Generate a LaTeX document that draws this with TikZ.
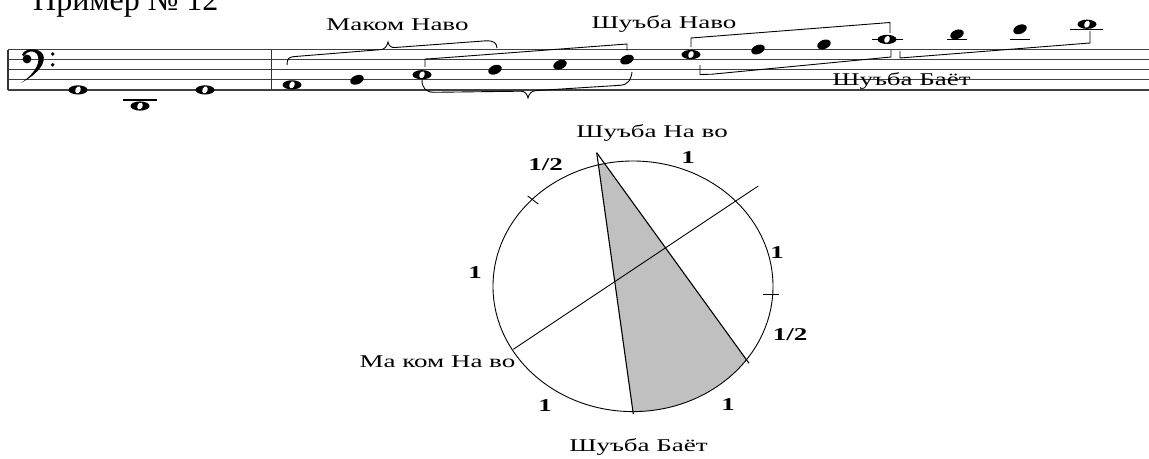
\documentclass[tikz,border=0pt]{standalone}
\usepackage{fontspec}
\setmainfont{Liberation Serif}
\newfontfamily\widefont[FakeStretch=1.5]{Liberation Serif}
\usetikzlibrary{calc}
\definecolor{wedgegray}{RGB}{192,192,192}
\begin{document}
\begin{tikzpicture}[x=1pt,y=-1pt,
  staffline/.style={line width=1.2pt,black!75},
  barline/.style={line width=1.2pt,black!80},
  ledger/.style={line width=1.1pt,black},
  brk/.style={line width=0.9pt,black},
  thinline/.style={line width=0.9pt,black},
  lbl/.style={font=\widefont\fontsize{18}{18}\selectfont,inner sep=0pt,anchor=base},
  num/.style={font=\widefont\bfseries\fontsize{18}{18}\selectfont,inner sep=0pt,anchor=base},
  wn/.pic={\fill (0,0) ellipse [x radius=9.5,y radius=4.6];
           \fill[white,rotate=65] (0,0) ellipse [x radius=3.6,y radius=2.6];},
  fn/.pic={\fill[rotate=22] (0,0) ellipse [x radius=7,y radius=4.5];}]
\useasboundingbox (0,0) rectangle (1149,458);
\fill[white] (0,0) rectangle (1149,458);

% title
\node[anchor=base west,inner sep=0pt,font=\fontsize{32}{32}\selectfont] (title) at (33,10.5) {Пример № 12};

% staff
\foreach \i in {0,...,4}
  \draw[staffline] (8,{49.5+10.1*\i}) -- (1149,{49.5+10.1*\i});
\draw[barline] (8,49.5) -- (8,89.9);
\draw[barline] (271.5,49.5) -- (271.5,89.9);

% bass clef
\fill (27,59) circle (4.4);
\fill (22,55) .. controls (24,48.5) and (35,47.5) .. (41,52)
      .. controls (47,57) and (45,70) .. (21,83)
      .. controls (37,72) and (41,61) .. (37,54)
      .. controls (34,50) and (27,50.5) .. (24,56) -- cycle;
\fill (52.7,54) circle (1.9);
\fill (52.7,64.8) circle (1.9);

% ledger lines
\draw[ledger] (123,100) -- (157,100);
\draw[ledger] (872,39.4) -- (903,39.4);
\draw[ledger] (947,39.4) -- (967,39.4);
\draw[ledger] (1010,39.4) -- (1030,39.4);
\draw[ledger] (1070,29.3) -- (1103,29.3);

% whole notes
\foreach \x/\y in {78/89.9,140/106,205/89.9,292/84.85,422/74.75,691/54.55,887/39.4,1087/24.25}
  \pic at (\x,\y) {wn};
% filled notes
\foreach \x/\y in {357/79.8,495/69.7,560/64.65,627/59.6,758/49.5,824/44.45,957/34.35,1020/29.3}
  \pic at (\x,\y) {fn};

% braces and brackets
\draw[brk] (287,65) .. controls (287,59) and (289,57) .. (294,56.6) -- (381,49.6)
   .. controls (385,49.2) and (387,46) .. (388,42)
   .. controls (389,46) and (391,47.8) .. (395,47.5) -- (486,40.8)
   .. controls (493,40.3) and (497,43) .. (497,48);
\draw[brk] (422,80) .. controls (422,88) and (426,92.3) .. (434,92.3) -- (521,91.2)
   .. controls (525,91.2) and (527,94) .. (528,98)
   .. controls (529,94) and (531,91) .. (536,90.6) -- (620,85.3)
   .. controls (628,84.8) and (631,80) .. (632,72);
\draw[brk] (425,67) -- (425,59) -- (433,58.6) -- (627,44) -- (627,50.5);
\draw[brk] (691,47) -- (691,38) -- (890,22.5) -- (890,33);
\draw[brk] (700,65) -- (700,74.5) -- (712,74.2) -- (891,57) -- (891,50);
\draw[brk] (900,51) -- (900,58) -- (1090,43) -- (1090,31);

% staff labels
\node[lbl] (mnTop) at (397.5,30) {Маком Наво};
\node[lbl] (snTop) at (664,28) {Шуъба Наво};
\node[lbl] (sbTop) at (901.5,85) {Шуъба Баёт};

% circle diagram
\coordinate (O) at (633,286.3);
\coordinate (A) at (596.7,152.7);
\coordinate (B) at (633.3,414);
\coordinate (C) at (749,363.3);
\coordinate (P) at (513.3,349.3);
\coordinate (Q) at (758.3,186);
\begin{scope}
  \clip (O) ellipse [x radius=140,y radius=125.3];
  \fill[wedgegray] (A) -- ($(A)!1.3!(B)$) -- (800,500) -- ($(A)!1.3!(C)$) -- cycle;
\end{scope}
\draw[thinline] (O) ellipse [x radius=140,y radius=125.3];
\draw[line width=1.1pt] (A) -- (B);
\draw[line width=1.1pt] (A) -- (C);
\draw[thinline] (P) -- (Q);
\draw[thinline] (527.7,196) -- (538.3,204);
\draw[thinline] (763.3,294.3) -- (779.3,294.3);

\node[lbl] (snC) at (652,137) {Шуъба На во};
\node[lbl] (mnC) at (437.5,367) {Ма ком На во};
\node[lbl] (sbC) at (638.5,451.5) {Шуъба Баёт};

\node[num] (n1) at (545.5,170) {1/2};
\node[num] (n2) at (688,163) {1};
\node[num] (n3) at (777,258) {1};
\node[num] (n4) at (475,278) {1};
\node[num] (n5) at (790,340) {1/2};
\node[num] (n6) at (545,411.5) {1};
\node[num] (n7) at (728,410) {1};
\end{tikzpicture}
\end{document}
